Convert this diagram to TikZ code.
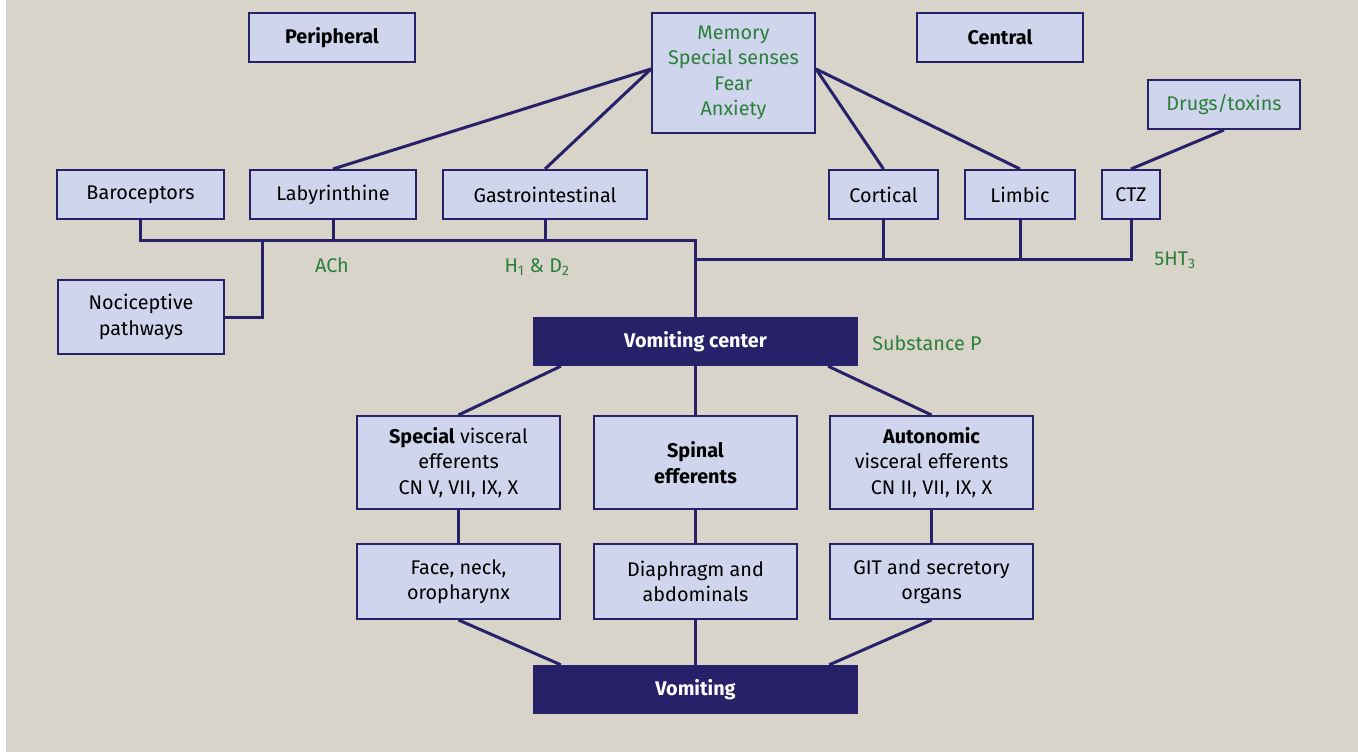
\documentclass[tikz,border=0pt]{standalone}
\usepackage{fontspec}
\setmainfont{Fira Sans}
\usetikzlibrary{calc}
\definecolor{bgbeige}{HTML}{D8D4C9}
\definecolor{boxfill}{HTML}{CFD5EC}
\definecolor{navy}{HTML}{262169}
\definecolor{leafgreen}{HTML}{2C7F3A}
\tikzset{
  lightbox/.style={draw=navy, line width=2pt, fill=boxfill, inner sep=0pt, align=center, font=\fontsize{19.8}{25.5}\selectfont},
  darkbox/.style={fill=navy, text=white, inner sep=0pt, font=\fontsize{19.8}{25.5}\selectfont\bfseries},
  link/.style={draw=navy, line width=3pt},
  tag/.style={text=leafgreen, inner sep=0pt, font=\fontsize{19.8}{25.5}\selectfont},
}
\newcommand{\fabox}[5] {\node at (#1) (#2) [lightbox, minimum width=#3, minimum height=#4] {#5};}
\newcommand{\fadarkbox}[3] {\node at (#1) (#2) [darkbox, minimum width=325, minimum height=49] {#3};}
\newcommand{\fatag}[3] {\node at (#1) (#2) [tag] {#3};}
\newcommand{\falink}[2] {\draw [link] (#1) -- (#2);}

\begin{document}
\begin{tikzpicture}[x=1pt, y=-1pt]
\useasboundingbox (0,0) rectangle (1358,752);
\fill [bgbeige] (6,0) rectangle (1358,752);

\fabox {332,37.5} {peri} {166} {49} {\bfseries Peripheral};
\fabox {1000,37.5} {cent} {166} {49} {\bfseries Central};
\fabox {733.5,73} {mem} {163} {120} {\color{leafgreen}Memory\\\color{leafgreen}Special senses\\\color{leafgreen}Fear\\\color{leafgreen}Anxiety};
\fabox {1224,104.5} {drug} {152} {49} {\color{leafgreen}Drugs/toxins};

\fabox {140.5,194.5} {baro} {167} {49} {Baroceptors};
\fabox {333,194.5} {laby} {166} {49} {Labyrinthine};
\fabox {545,194.5} {gast} {204} {49} {Gastrointestinal};
\fabox {883.5,194.5} {cort} {109} {49} {Cortical};
\fabox {1020,194.5} {limb} {110} {49} {Limbic};
\fabox {1131,194.5} {ctz} {58} {49} {CTZ};
\fabox {141,317} {noci} {166} {74} {Nociceptive\\pathways};

\fadarkbox {695.5,341.5} {vc} {Vomiting center};

\fabox {458.5,462.5} {spec} {203} {93} {{\bfseries Special} visceral\\efferents\\CN V, VII, IX, X};
\fabox {695.5,462.5} {spin} {203} {93} {\bfseries Spinal\\\bfseries efferents};
\fabox {931.5,462.5} {auto} {203} {93} {\bfseries Autonomic\\visceral efferents\\CN II, VII, IX, X};

\fabox {458.5,581.5} {face} {203} {75} {Face, neck,\\oropharynx};
\fabox {695.5,581.5} {diap} {203} {75} {Diaphragm and\\abdominals};
\fabox {931.5,581.5} {git} {203} {75} {GIT and secretory\\organs};

\fadarkbox {695.5,689.5} {vom} {Vomiting};

\fatag {332,265} {ach} {ACh};
\fatag {537,267} {hd} {H\textsubscript{1} \& D\textsubscript{2}};
\fatag {1175,260} {sht} {5HT\textsubscript{3}};
\fatag {927,343} {subp} {Substance P};

\coordinate (pbus) at (695.5,240);
\coordinate (pjoin) at (262,240);
\coordinate (cbus) at (695.5,259);

\falink {$(mem.west)+(0,-4)$} {laby.north};
\falink {$(mem.west)+(0,-4)$} {gast.north};
\falink {$(mem.east)+(0,-4)$} {cort.north};
\falink {$(mem.east)+(0,-4)$} {limb.north};
\falink {drug.south} {ctz.north};

\draw [link] (baro.south) |- (pbus) -- (vc.north);
\falink {laby.south} {laby.south |- pbus};
\falink {gast.south} {gast.south |- pbus};
\draw [link] (noci.east) -| (pjoin);
\draw [link] (ctz.south) |- (cbus);
\falink {cort.south} {cort.south |- cbus};
\falink {limb.south} {limb.south |- cbus};

\falink {$(vc.south west)+(28,0)$} {spec.north};
\falink {vc.south} {spin.north};
\falink {$(vc.south east)+(-30,0)$} {auto.north};
\falink {spec.south} {face.north};
\falink {spin.south} {diap.north};
\falink {auto.south} {git.north};
\falink {face.south} {$(vom.north west)+(28,0)$};
\falink {diap.south} {vom.north};
\falink {git.south} {$(vom.north east)+(-29,0)$};

\end{tikzpicture}
\end{document}
